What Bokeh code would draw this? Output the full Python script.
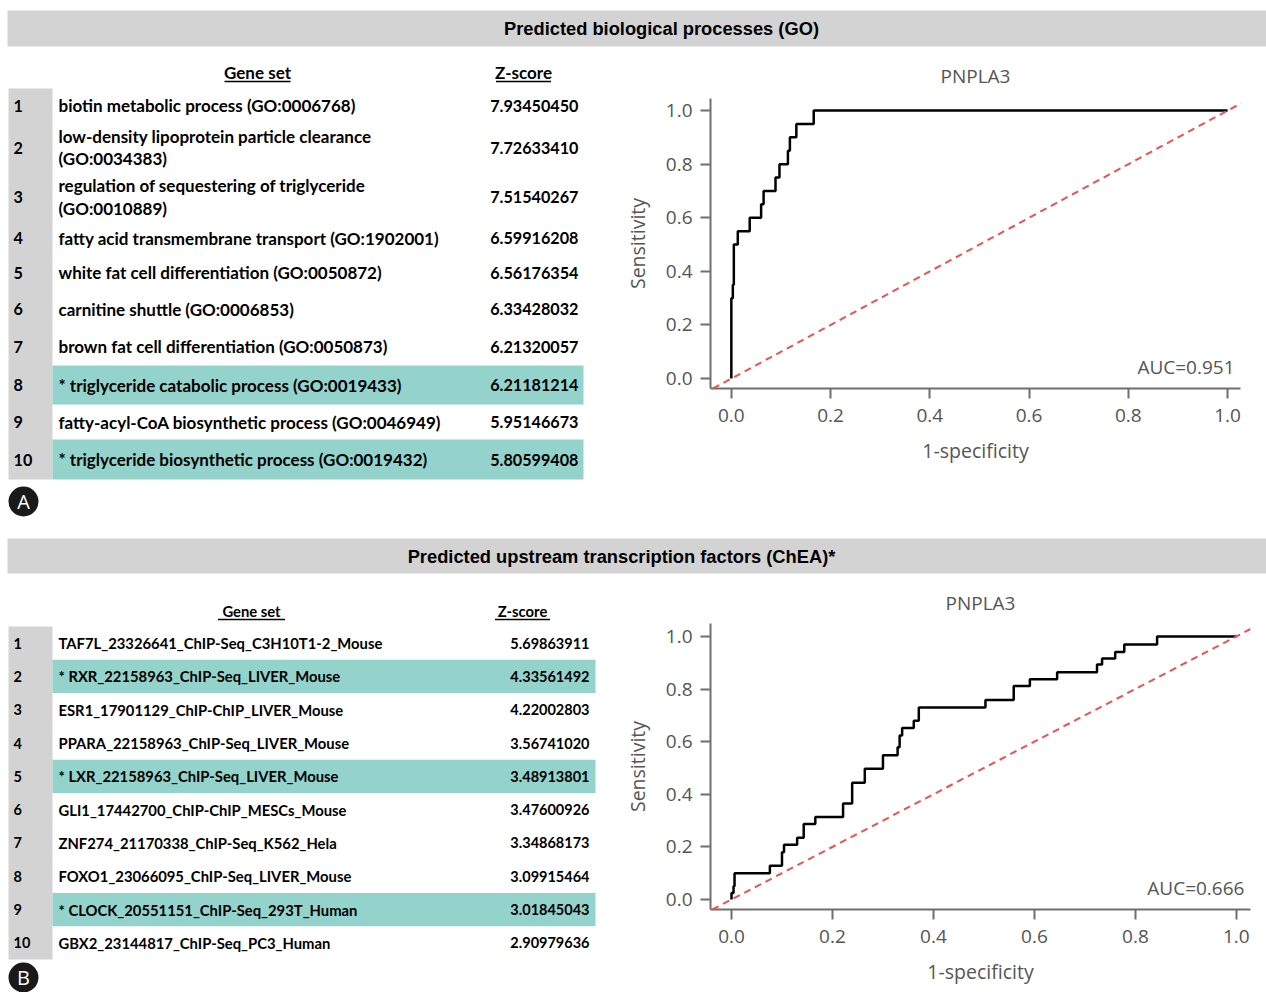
from bokeh.plotting import figure
from bokeh.models import Range1d, Label, Slope, FixedTicker, PrintfTickFormatter
from bokeh.core.properties import value
from bokeh.embed import file_html
from bokeh.resources import INLINE

# ---------------- data ----------------
GO_TITLE = "Predicted biological processes (GO)"
CHEA_TITLE = "Predicted upstream transcription factors (ChEA)*"

GO_TERMS = [
    "biotin metabolic process (GO:0006768)",
    "low-density lipoprotein particle clearance\n(GO:0034383)",
    "regulation of sequestering of triglyceride\n(GO:0010889)",
    "fatty acid transmembrane transport (GO:1902001)",
    "white fat cell differentiation (GO:0050872)",
    "carnitine shuttle (GO:0006853)",
    "brown fat cell differentiation (GO:0050873)",
    "* triglyceride catabolic process (GO:0019433)",
    "fatty-acyl-CoA biosynthetic process (GO:0046949)",
    "* triglyceride biosynthetic process (GO:0019432)",
]
GO_Z = [7.93450450, 7.72633410, 7.51540267, 6.59916208, 6.56176354,
        6.33428032, 6.21320057, 6.21181214, 5.95146673, 5.80599408]
GO_HIGHLIGHT = [8, 10]

CHEA_TERMS = [
    "TAF7L_23326641_ChIP-Seq_C3H10T1-2_Mouse",
    "* RXR_22158963_ChIP-Seq_LIVER_Mouse",
    "ESR1_17901129_ChIP-ChIP_LIVER_Mouse",
    "PPARA_22158963_ChIP-Seq_LIVER_Mouse",
    "* LXR_22158963_ChIP-Seq_LIVER_Mouse",
    "GLI1_17442700_ChIP-ChIP_MESCs_Mouse",
    "ZNF274_21170338_ChIP-Seq_K562_Hela",
    "FOXO1_23066095_ChIP-Seq_LIVER_Mouse",
    "* CLOCK_20551151_ChIP-Seq_293T_Human",
    "GBX2_23144817_ChIP-Seq_PC3_Human",
]
CHEA_Z = [5.69863911, 4.33561492, 4.22002803, 3.56741020, 3.48913801,
          3.47600926, 3.34868173, 3.09915464, 3.01845043, 2.90979636]
CHEA_HIGHLIGHT = [2, 5, 9]

# ROC curves (1-specificity, sensitivity)
GO_FPR = [0.0, 0.0, 0.003, 0.005, 0.013, 0.037, 0.060, 0.065, 0.089, 0.097,
          0.114, 0.118, 0.131, 0.166, 1.0]
GO_TPR = [0.0, 0.30, 0.35, 0.50, 0.55, 0.60, 0.65, 0.70, 0.75, 0.80,
          0.85, 0.90, 0.95, 1.0, 1.0]
GO_AUC = 0.951

CHEA_FPR = [0.0, 0.0, 0.004, 0.006, 0.076, 0.100, 0.104, 0.130, 0.143, 0.166,
            0.221, 0.239, 0.264, 0.300, 0.329, 0.333, 0.338, 0.361, 0.371,
            0.503, 0.559, 0.591, 0.645, 0.724, 0.734, 0.760, 0.778, 0.843, 1.0]
CHEA_TPR = [0.0, 0.025, 0.05, 0.10, 0.128, 0.18, 0.208, 0.235, 0.287, 0.314,
            0.365, 0.444, 0.497, 0.548, 0.579, 0.623, 0.652, 0.679, 0.730,
            0.758, 0.811, 0.837, 0.864, 0.893, 0.916, 0.941, 0.969, 1.0, 1.0]
CHEA_AUC = 0.666

ROC_TICKS = [0.0, 0.2, 0.4, 0.6, 0.8, 1.0]

# ---------------- styles ----------------
GRAY = "#d3d3d3"
TEAL = "#93d3cc"
AXIS_GRAY = "#6f6f6f"
LABEL_GRAY = "#555555"
TABLE_FONT = value("Lato")
ROC_FONT = "Open Sans"
TABLE_W = 618
ROC_W = 646


def blank_fig(x0, x1, y0, y1):
    p = figure(width=x1 - x0, height=y1 - y0,
               x_range=Range1d(x0, x1), y_range=Range1d(y1, y0),
               x_axis_type=None, y_axis_type=None,
               output_backend="svg", toolbar_location=None, min_border=0)
    p.grid.visible = False
    p.outline_line_color = None
    p.background_fill_color = "white"
    p.border_fill_color = "white"
    return p


def header_fig(y0, y1, bar_top, bar_bot, title, tx):
    p = blank_fig(0, 1266, y0, y1)
    p.quad(left=[7], right=[1266], top=[bar_top], bottom=[bar_bot],
           fill_color=GRAY, line_color=None)
    p.text(x=[tx], y=[(bar_top + bar_bot) / 2], text=[title],
           text_font=value("Liberation Sans"), text_font_style="bold",
           text_font_size="18.3px", text_align="center", text_baseline="middle",
           text_color="black")
    return p


def table_fig(y0, y1, bounds, terms, zs, hi, fs, zfs, z_right, teal_right,
              hdr_y, gene_x, z_x, gene_w, z_w, letter, cy):
    p = blank_fig(0, TABLE_W, y0, y1)
    n = len(terms)
    centers = [(bounds[i] + bounds[i + 1]) / 2 for i in range(n)]
    p.quad(left=[8], right=[52], top=[bounds[0]], bottom=[bounds[-1]],
           fill_color=GRAY, line_color=None)
    hl = [i - 1 for i in hi]
    p.quad(left=[52] * len(hl), right=[teal_right] * len(hl),
           top=[bounds[i] for i in hl], bottom=[bounds[i + 1] for i in hl],
           fill_color=TEAL, line_color=None)
    common = dict(text_font=TABLE_FONT, text_font_style="bold",
                  text_baseline="middle", text_color="black")
    p.text(x=[13] * n, y=centers, text=[str(i + 1) for i in range(n)],
           text_align="left", text_font_size=zfs, **common)
    p.text(x=[58] * n, y=centers, text=terms, text_align="left",
           text_line_height=1.07, text_font_size=fs, **common)
    p.text(x=[z_right] * n, y=centers, text=["%.8f" % z for z in zs],
           text_align="right", text_font_size=zfs, **common)
    # column headers
    p.text(x=[gene_x, z_x], y=[hdr_y, hdr_y], text=["Gene set", "Z-score"],
           text_align="center", text_font_size=fs, **common)
    ul = hdr_y + 9
    p.segment(x0=[gene_x - gene_w / 2, z_x - z_w / 2], y0=[ul, ul],
              x1=[gene_x + gene_w / 2, z_x + z_w / 2], y1=[ul, ul],
              line_color="black", line_width=1.3)
    # panel letter
    p.circle(x=[23], y=[cy], radius=15, fill_color="#1a1a1a", line_color=None)
    p.text(x=[23], y=[cy], text=[letter], text_font=value("Open Sans"),
           text_font_size="20px", text_align="center", text_baseline="middle",
           text_color="white")
    return p


def roc_fig(height, fpr, tpr, auc, xr, yr, mleft, mright, mtop, mbot, tstand):
    p = figure(width=ROC_W, height=height, x_range=Range1d(*xr), y_range=Range1d(*yr),
               output_backend="svg", toolbar_location=None,
               min_border_left=mleft, min_border_right=mright,
               min_border_top=mtop, min_border_bottom=mbot, title="PNPLA3")
    p.grid.visible = False
    p.outline_line_color = None
    p.background_fill_color = "white"
    p.border_fill_color = "white"
    p.title.align = "center"
    p.title.text_font = ROC_FONT
    p.title.text_font_style = "normal"
    p.title.text_font_size = "19px"
    p.title.text_color = LABEL_GRAY
    p.title.standoff = tstand
    for ax in (p.xaxis[0], p.yaxis[0]):
        ax.ticker = FixedTicker(ticks=ROC_TICKS)
        ax.formatter = PrintfTickFormatter(format="%.1f")
        ax.axis_line_color = AXIS_GRAY
        ax.axis_line_width = 2
        ax.major_tick_line_color = AXIS_GRAY
        ax.major_tick_line_width = 2
        ax.major_tick_out = 10
        ax.major_tick_in = 0
        ax.minor_tick_line_color = None
        ax.major_label_text_font = ROC_FONT
        ax.major_label_text_font_size = "19px"
        ax.major_label_text_color = LABEL_GRAY
        ax.axis_label_text_font = ROC_FONT
        ax.axis_label_text_font_size = "19.5px"
        ax.axis_label_text_font_style = "normal"
        ax.axis_label_text_color = LABEL_GRAY
    p.xaxis.axis_label = "1-specificity"
    p.yaxis.axis_label = "Sensitivity"
    p.xaxis.major_label_standoff = 10
    p.yaxis.major_label_standoff = 8
    p.xaxis.axis_label_standoff = 12
    p.yaxis.axis_label_standoff = 12
    p.add_layout(Slope(gradient=1, y_intercept=0, line_color="#f05050",
                       line_width=2, line_dash="7 5"))
    p.step(fpr, tpr, mode="after", line_color="black", line_width=2.5)
    p.add_layout(Label(x=xr[1] - 0.012, y=0.045, text="AUC=%.3f" % auc,
                       text_align="right", text_baseline="middle",
                       text_font=ROC_FONT, text_font_size="19px",
                       text_color=LABEL_GRAY))
    return p


GO_BOUNDS = [88, 122, 172, 221, 254, 290, 327, 365, 404, 439, 479]
CHEA_BOUNDS = [626 + 33.3 * i for i in range(11)]

hA = header_fig(0, 50, 10, 46, GO_TITLE, 661)
tA = table_fig(50, 530, GO_BOUNDS, GO_TERMS, GO_Z, GO_HIGHLIGHT, "17px", "16.2px",
               578, 583, 72, 257, 523, 66, 55, "A", 501)
rA = roc_fig(480, GO_FPR, GO_TPR, GO_AUC, (-0.042, 1.026), (-0.037, 1.045),
             92, 24, 48, 142, 19)

hB = header_fig(530, 578, 538, 573, CHEA_TITLE, 621)
tB = table_fig(578, 992, CHEA_BOUNDS, CHEA_TERMS, CHEA_Z, CHEA_HIGHLIGHT, "14.8px",
               "14.5px", 589, 595, 610, 251, 522, 67, 55, "B", 977)
rB = roc_fig(414, CHEA_FPR, CHEA_TPR, CHEA_AUC, (-0.0416, 1.028), (-0.038, 1.049),
             92, 14, 45, 83, 16)

# independent roots laid out side by side (so frames are not re-aligned)
TEMPLATE = """{% block postamble %}
<style>
  html, body { overflow: hidden; margin: 0; padding: 0; }
  body { display: flex; flex-wrap: wrap; align-items: flex-start;
         align-content: flex-start; width: 1266px; }
  body > div, body > div > div { flex-shrink: 0; }
</style>
{% endblock %}"""

roots = [hA, tA, rA, hB, tB, rB]
open("out.html", "w").write(file_html(roots, INLINE, template=TEMPLATE))
